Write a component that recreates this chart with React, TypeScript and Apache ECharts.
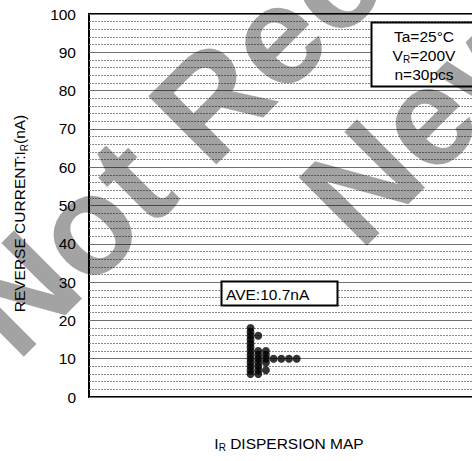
import React, { useEffect, useRef } from "react";
import * as echarts from "echarts";

// Distinct reverse-current readings (nA) and how many of the 30 parts gave each
const irValues = [6, 7, 8, 9, 10, 11, 12, 13, 14, 15, 16, 17, 18];
const irCounts = [2, 3, 2, 3, 7, 3, 3, 1, 1, 1, 2, 1, 1];

const yMin = 0;
const yMax = 100;
const yInterval = 10;

const conditionLines = ["Ta=25°C", "V{sub|R}=200V", "n=30pcs"];
const averageText = "AVE:10.7nA";
const yAxisTitle = "{a|REVERSE CURRENT:I}{sub|R}{a|(nA)}";
const chartTitle = "I{sub|R} DISPERSION MAP";
const watermarkLines = ["Not Recommended", "New Design"];

const FONT = "'Liberation Sans', Arial, sans-serif";

export default function App() {
  const ref = useRef<HTMLDivElement>(null);

  useEffect(() => {
    if (!ref.current) return;
    const chart = echarts.init(ref.current, null, { renderer: "svg" });

    const dots: number[][] = [];
    irValues.forEach((v, i) => {
      for (let k = 1; k <= irCounts[i]; k++) dots.push([k, v]);
    });

    const sub = { fontSize: 10, lineHeight: 19, verticalAlign: "bottom", fontFamily: FONT, color: "#000", fill: "#000" };

    const watermark = (text: string, x: number, y: number) => ({
      type: "text",
      x,
      y,
      rotation: Math.PI / 4,
      z: 20,
      silent: true,
      style: {
        text,
        fontSize: 140,
        fontWeight: "bold",
        fontFamily: FONT,
        fill: "rgba(0,0,0,0.36)",
        align: "left",
        verticalAlign: "middle",
      },
    });

    chart.setOption({
      animation: false,
      backgroundColor: "#fff",
      textStyle: { fontFamily: FONT },
      grid: {
        left: 89,
        top: 14,
        width: 400,
        height: 383,
        show: true,
        borderColor: "#000",
        borderWidth: 2,
        backgroundColor: "transparent",
      },
      xAxis: {
        type: "value",
        min: -20,
        max: 32,
        show: false,
        splitLine: { show: false },
      },
      yAxis: {
        type: "value",
        min: yMin,
        max: yMax,
        interval: yInterval,
        axisLine: { show: false },
        axisTick: { show: false },
        axisLabel: { fontSize: 15.5, color: "#000", margin: 13, fontFamily: FONT },
        splitLine: { show: true, lineStyle: { color: "#707070", width: 1, type: "solid" } },
        minorTick: { show: false, splitNumber: 5 },
        minorSplitLine: { show: true, lineStyle: { color: "#8a8a8a", width: 1, type: [2, 1] } },
        name: yAxisTitle,
        nameLocation: "middle",
        nameRotate: 90,
        nameGap: 60,
        nameTextStyle: {
          fontSize: 15.5,
          color: "#000",
          fontFamily: FONT,
          padding: [0, 16, 0, 0],
          rich: {
            a: { fontSize: 15.5, lineHeight: 19, color: "#000", fontFamily: FONT },
            sub: { fontSize: 10, lineHeight: 19, verticalAlign: "bottom", color: "#000", fontFamily: FONT },
          },
        },
      },
      series: [
        {
          type: "scatter",
          data: dots,
          symbol: "circle",
          symbolSize: 8,
          itemStyle: { color: "#000" },
          z: 5,
        },
      ],
      graphic: [
        {
          type: "rect",
          shape: { x: 371.5, y: 22.5, width: 105, height: 64 },
          style: { fill: "#fff", stroke: "#000", lineWidth: 2 },
          z: 10,
        },
        {
          type: "text",
          x: 424,
          y: 55,
          z: 11,
          style: {
            text: conditionLines.join("\n"),
            fontSize: 15.5,
            fontFamily: FONT,
            fill: "#000",
            align: "center",
            verticalAlign: "middle",
            lineHeight: 19,
            rich: { sub },
          },
        },
        {
          type: "rect",
          shape: { x: 221.5, y: 281.5, width: 116, height: 24 },
          style: { fill: "#fff", stroke: "#000", lineWidth: 2 },
          z: 10,
        },
        {
          type: "text",
          x: 226,
          y: 294.5,
          z: 11,
          style: {
            text: averageText,
            fontSize: 15.5,
            fontFamily: FONT,
            fill: "#000",
            align: "left",
            verticalAlign: "middle",
          },
        },
        {
          type: "text",
          x: 289,
          y: 443,
          z: 11,
          style: {
            text: chartTitle,
            fontSize: 15.5,
            fontFamily: FONT,
            fill: "#000",
            align: "center",
            verticalAlign: "middle",
            lineHeight: 19,
            rich: { sub },
          },
        },
        watermark(watermarkLines[0], -17, 329),
        watermark(watermarkLines[1], 326, 218),
      ],
    });

    return () => chart.dispose();
  }, []);

  return (
    <div
      style={{
        position: "fixed",
        left: 0,
        top: 0,
        width: 472,
        height: 461,
        overflow: "hidden",
        background: "#fff",
      }}
    >
      <div ref={ref} style={{ width: 500, height: 461 }} />
    </div>
  );
}
